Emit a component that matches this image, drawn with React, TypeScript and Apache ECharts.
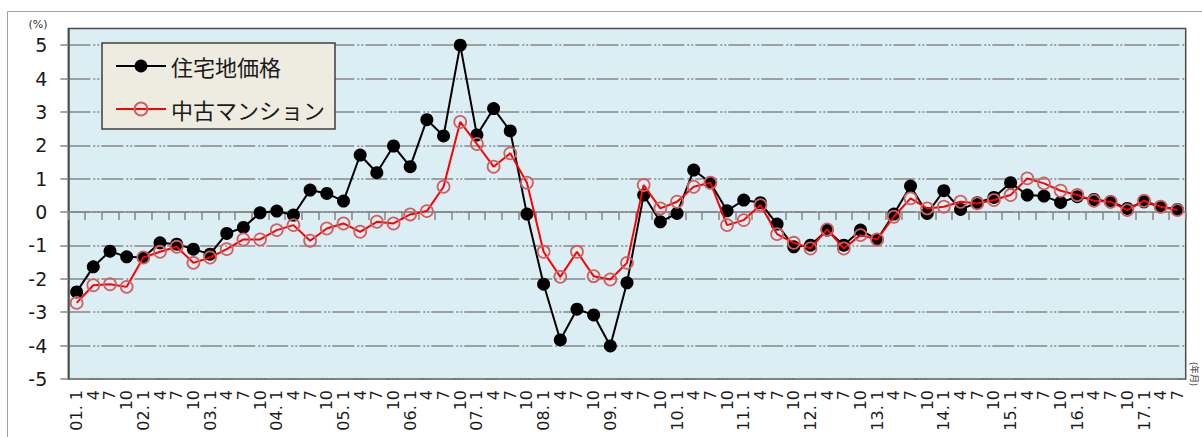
import React, { useEffect, useRef } from "react";
import * as echarts from "echarts";

const categories = [
  "01.1", "01.4", "01.7", "01.10", "02.1", "02.4", "02.7", "02.10",
  "03.1", "03.4", "03.7", "03.10", "04.1", "04.4", "04.7", "04.10",
  "05.1", "05.4", "05.7", "05.10", "06.1", "06.4", "06.7", "06.10",
  "07.1", "07.4", "07.7", "07.10", "08.1", "08.4", "08.7", "08.10",
  "09.1", "09.4", "09.7", "09.10", "10.1", "10.4", "10.7", "10.10",
  "11.1", "11.4", "11.7", "11.10", "12.1", "12.4", "12.7", "12.10",
  "13.1", "13.4", "13.7", "13.10", "14.1", "14.4", "14.7", "14.10",
  "15.1", "15.4", "15.7", "15.10", "16.1", "16.4", "16.7", "16.10",
  "17.1", "17.4", "17.7",
];

const residentialLand = [
  -2.39, -1.64, -1.17, -1.34, -1.36, -0.92, -0.96, -1.11,
  -1.26, -0.64, -0.46, -0.02, 0.03, -0.09, 0.66, 0.56,
  0.33, 1.71, 1.18, 1.98, 1.36, 2.77, 2.28, 5.0,
  2.31, 3.1, 2.43, -0.06, -2.16, -3.83, -2.91, -3.08,
  -4.01, -2.12, 0.51, -0.29, -0.04, 1.26, 0.88, 0.04,
  0.36, 0.28, -0.36, -1.04, -0.99, -0.54, -0.99, -0.54,
  -0.82, -0.06, 0.78, -0.04, 0.64, 0.08, 0.28, 0.44,
  0.88, 0.51, 0.48, 0.29, 0.46, 0.38, 0.31, 0.11,
  0.31, 0.16, 0.08,
];

const usedCondo = [
  -2.72, -2.19, -2.16, -2.24, -1.36, -1.19, -1.04, -1.52,
  -1.36, -1.11, -0.82, -0.82, -0.54, -0.39, -0.86, -0.49,
  -0.34, -0.59, -0.29, -0.34, -0.07, 0.03, 0.76, 2.7,
  2.04, 1.36, 1.76, 0.88, -1.19, -1.94, -1.19, -1.92,
  -2.02, -1.52, 0.81, 0.11, 0.31, 0.76, 0.88, -0.39,
  -0.24, 0.21, -0.66, -0.92, -1.09, -0.52, -1.09, -0.69,
  -0.82, -0.14, 0.41, 0.11, 0.16, 0.31, 0.26, 0.36,
  0.51, 1.01, 0.86, 0.64, 0.51, 0.34, 0.31, 0.06,
  0.34, 0.16, 0.06,
];

const yTicks = [-5, -4, -3, -2, -1, 0, 1, 2, 3, 4, 5];
const seriesNames = ["住宅地価格", "中古マンション"];

const NUM_FONT = "DejaVu Sans, Verdana, sans-serif";
const JP_FONT = "Noto Sans CJK JP, sans-serif";

function formatCategory(v: string): string {
  const [yy, m] = v.split(".");
  return m === "1" ? `${yy}. 1` : m;
}

export default function App() {
  const ref = useRef<HTMLDivElement>(null);

  useEffect(() => {
    if (!ref.current) return;
    const chart = echarts.init(ref.current, null, { renderer: "svg" });
    const gridLine = {
      color: "#878787",
      width: 1.5,
      type: [22, 3, 2, 2, 2, 2] as any,
    };
    chart.setOption({
      animation: false,
      backgroundColor: "#ffffff",
      grid: {
        left: 68.3,
        top: 28.5,
        width: 1117.4,
        height: 350.5,
        show: true,
        backgroundColor: "#DBEEF4",
        borderColor: "#4d4d4d",
        borderWidth: 1.5,
      },
      legend: {
        data: seriesNames,
        orient: "vertical",
        left: 102,
        top: 43,
        itemWidth: 50,
        itemHeight: 16,
        itemGap: 21,
        padding: [12, 10, 9, 13],
        backgroundColor: "#EEEBE1",
        borderColor: "#3f3f3f",
        borderWidth: 1.5,
        textStyle: { fontSize: 22, fontFamily: JP_FONT, color: "#1a1a1a" },
      },
      xAxis: [
        {
          type: "category",
          data: categories,
          position: "bottom",
          boundaryGap: true,
          axisLine: { show: false },
          axisTick: { show: false },
          splitLine: { show: false },
          axisLabel: {
            rotate: 90,
            interval: 0,
            fontSize: 16,
            margin: 11,
            color: "#1a1a1a",
            fontFamily: NUM_FONT,
            formatter: (v: string) => formatCategory(v),
          },
        },
        {
          type: "category",
          data: categories,
          position: "top",
          boundaryGap: true,
          axisLine: {
            show: true,
            onZero: true,
            onZeroAxisIndex: 0,
            lineStyle: { color: "#868686", width: 1.5 },
          },
          axisTick: {
            show: true,
            inside: true,
            length: 8,
            interval: 0,
            lineStyle: { color: "#868686", width: 1.5 },
          },
          axisLabel: { show: false },
          splitLine: { show: false },
        },
      ],
      yAxis: {
        type: "value",
        min: -5,
        max: 5.5,
        interval: 1,
        axisLine: { show: true, lineStyle: { color: "#4d4d4d", width: 1.5 } },
        axisTick: {
          show: true,
          length: 8,
          customValues: yTicks,
          lineStyle: { color: "#868686", width: 1.5 },
        },
        axisLabel: {
          customValues: yTicks,
          fontSize: 19,
          margin: 21,
          color: "#1a1a1a",
          fontFamily: NUM_FONT,
          formatter: (v: number) => (Number.isInteger(v) ? String(v) : ""),
        },
        splitLine: { show: true, lineStyle: gridLine },
      },
      graphic: [
        {
          type: "rect",
          silent: true,
          z: -10,
          shape: { x: 7.5, y: 11.5, width: 1300, height: 500 },
          style: { fill: "none", stroke: "#a0a0a0", lineWidth: 1 },
        },
        {
          type: "text",
          x: 38,
          y: 24,
          style: {
            text: "(%)",
            fontSize: 11,
            fontFamily: NUM_FONT,
            fill: "#333",
            align: "center",
            verticalAlign: "middle",
          },
        },
        {
          type: "text",
          x: 1194,
          y: 362,
          rotation: -Math.PI / 2,
          style: {
            text: "(年月)",
            fontSize: 9,
            fontFamily: JP_FONT,
            fill: "#333",
            align: "left",
            verticalAlign: "middle",
          },
        },
      ],
      series: [
        {
          name: seriesNames[0],
          type: "line",
          xAxisIndex: 0,
          yAxisIndex: 0,
          data: residentialLand,
          symbol: "circle",
          symbolSize: 13,
          itemStyle: { color: "#000000" },
          lineStyle: { color: "#000000", width: 2 },
          z: 3,
        },
        {
          name: seriesNames[1],
          type: "line",
          xAxisIndex: 0,
          yAxisIndex: 0,
          data: usedCondo,
          symbol: "circle",
          symbolSize: 12,
          itemStyle: {
            color: "rgba(0,0,0,0)",
            borderColor: "#D25F5F",
            borderWidth: 1.75,
          },
          lineStyle: { color: "#FF0000", width: 2 },
          z: 4,
        },
      ],
    });
    return () => chart.dispose();
  }, []);

  return (
    <div
      ref={ref}
      style={{ position: "fixed", left: 0, top: 0, width: 1202, height: 437 }}
    />
  );
}
